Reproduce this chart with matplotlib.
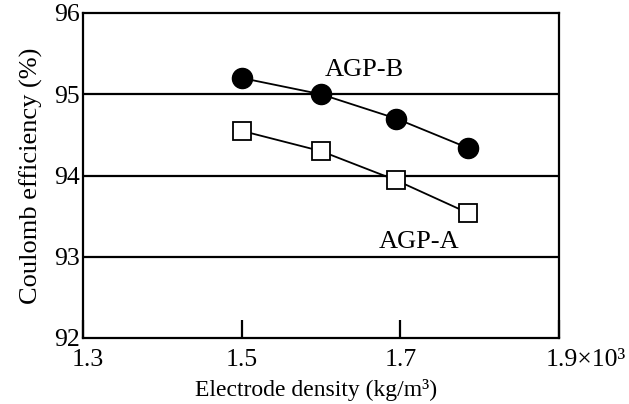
import matplotlib
matplotlib.use("Agg")
import matplotlib.pyplot as plt
import matplotlib.transforms as mtransforms

density = [1.5, 1.6, 1.695, 1.785]
agp_b = [95.2, 95.0, 94.7, 94.34]
agp_a = [94.55, 94.3, 93.94, 93.54]
xticks = [1.3, 1.5, 1.7, 1.9]
xticklabels = ["1.3", "1.5", "1.7", "1.9×10³"]
yticks = [92, 93, 94, 95, 96]

plt.rcParams['font.family'] = ['Liberation Serif', 'DejaVu Serif']

fig = plt.figure(figsize=(6.29, 4.04), dpi=100)
ax = fig.add_axes([83/629, 1 - 338/404, (559 - 83)/629, (338 - 13)/404])

ax.plot(density, agp_b, color='black', lw=1.3, marker='o', ms=14.5,
        mfc='black', mec='black', zorder=3)
ax.plot(density, agp_a, color='black', lw=1.3, marker='s', ms=13,
        mfc='white', mec='black', mew=1.3, zorder=3)

ax.set_xlim(1.3, 1.9)
ax.set_ylim(92, 96)
ax.set_xticks(xticks)
ax.set_xticklabels(xticklabels)
ax.set_yticks(yticks)
for y in [93, 94, 95]:
    ax.axhline(y, color='black', lw=1.6, zorder=1)

ax.tick_params(axis='x', direction='in', length=13, width=1.6, labelsize=18.5, pad=8)
ax.tick_params(axis='y', length=0, labelsize=18.5, pad=2)
for s in ax.spines.values():
    s.set_linewidth(1.6)

last = ax.get_xticklabels()[-1]
last.set_horizontalalignment('left')
last.set_transform(last.get_transform() +
                   mtransforms.ScaledTranslation(-13/100, 0, fig.dpi_scale_trans))
first = ax.get_xticklabels()[0]
first.set_transform(first.get_transform() +
                    mtransforms.ScaledTranslation(5/100, 0, fig.dpi_scale_trans))

ax.text(1.605, 95.23, "AGP-B", fontsize=19, ha='left', va='baseline')
ax.text(1.673, 93.11, "AGP-A", fontsize=19, ha='left', va='baseline')

ax.set_xlabel("Electrode density (kg/m³)", fontsize=17, va='top')
ax.xaxis.set_label_coords(0.49, -0.125)
ax.set_ylabel("Coulomb efficiency (%)", fontsize=19, labelpad=8)

fig.savefig("out.png", dpi=100)
